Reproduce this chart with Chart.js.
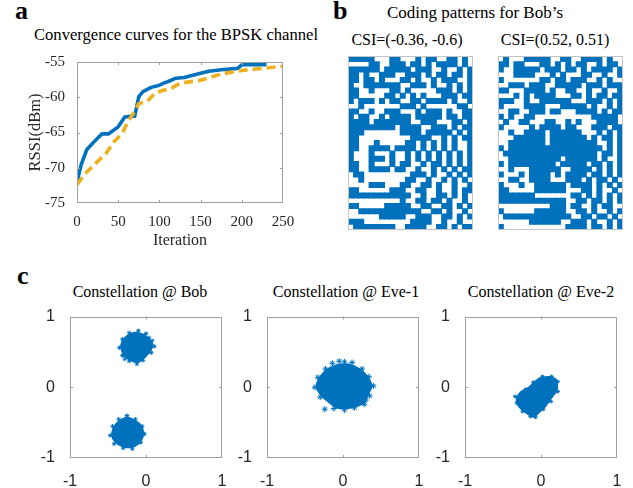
<!DOCTYPE html>
<html><head><meta charset="utf-8">
<script src="https://cdn.jsdelivr.net/npm/chart.js@4"></script>
<style>
html,body{margin:0;padding:0;background:#fff;}
#wrap{position:relative;width:633px;height:488px;overflow:hidden;background:#fff;}
canvas{position:absolute;}
.t{position:absolute;font-family:'Liberation Serif','Times New Roman',serif;color:#000;line-height:1;white-space:nowrap;}
.c{text-align:center;width:300px;}
.lbl{font-weight:bold;font-size:26px;}
</style></head><body>
<div id="wrap">
  <div class="t lbl" style="left:15px;top:-2px">a</div>
  <div class="t lbl" style="left:333px;top:-2px">b</div>
  <div class="t lbl" style="left:17px;top:263px">c</div>
  <div class="t c" style="left:26px;top:27px;font-size:16.6px">Convergence curves for the BPSK channel</div>
  <div class="t c" style="left:325px;top:4px;font-size:17px">Coding patterns for Bob’s</div>
  <div class="t c" style="left:257px;top:32px;font-size:16px">CSI=(-0.36, -0.6)</div>
  <div class="t c" style="left:405px;top:32px;font-size:16px">CSI=(0.52, 0.51)</div>
  <div class="t c" style="left:-10px;top:284px;font-size:16px">Constellation @ Bob</div>
  <div class="t c" style="left:196px;top:284px;font-size:16px">Constellation @ Eve-1</div>
  <div class="t c" style="left:391px;top:284px;font-size:16px">Constellation @ Eve-2</div>
  <canvas id="cA" width="330" height="250" style="left:0;top:0"></canvas>
  <canvas id="cB1" width="133" height="182" style="left:344px;top:52px"></canvas>
  <canvas id="cB2" width="133" height="182" style="left:494px;top:52px"></canvas>
  <canvas id="cC1" width="205" height="188" style="left:30px;top:300px"></canvas>
  <canvas id="cC2" width="205" height="188" style="left:227px;top:300px"></canvas>
  <canvas id="cC3" width="205" height="188" style="left:425px;top:300px"></canvas>
</div>
<script>
// ---------- Panel a data ----------
const blueIter = [0, 5, 12, 20, 30, 38, 50, 58, 65, 70, 75, 80, 90, 100, 105, 110, 120, 130, 150, 160, 175, 195, 200, 230];
const blueRSSI = [-72, -69.6, -67.4, -66.4, -65.2, -65.2, -64.2, -62.8, -62.7, -62.7, -59.9, -59.2, -58.6, -58.3, -58.0, -57.8, -57.3, -57.2, -56.6, -56.3, -56.1, -55.9, -55.4, -55.4];
const yellowIter = [0, 5, 12, 25, 35, 45, 55, 62, 70, 75, 85, 95, 105, 115, 125, 150, 175, 200, 225, 250];
const yellowRSSI = [-72.4, -71.6, -70.6, -69.1, -68.0, -66.3, -65.1, -63.4, -62.0, -60.9, -60.6, -59.4, -59.0, -58.7, -58.0, -57.6, -56.7, -56.2, -55.9, -55.6];
const xTicksA = [0, 50, 100, 150, 200, 250];
const yTicksA = [-75, -70, -65, -60, -55];

// ---------- Panel b data (1 = blue cell) ----------
const patternBob1 = [
"#####...##...#.##..##.#.",
"....##..###.##.#.####.#.",
"######.#####.###..#..#.#",
"##.#..###..###.#.##.##.#",
"##.##.#...##.#..#.###..#",
"#..#######..###.#..#.#.#",
"##..#...##.#.....###.#.#",
"##.....##.#.#.#...###.##",
"#.###.#.##..##.####.#..#",
"..#.......###.#......##.",
"##..#..###...#.###.#..##",
"#.##..#.####.#####.##.##",
"####.#######..###...##.#",
"#########.####..###.#.##",
"###.......####.#####.#.#",
"##..........####..#.#.##",
"##...#.....##.#.#.#.#..#",
"##..####.####.#.#.#.#..#",
"#...#...#..#.#.#.#.#.#.#",
"#...###.#..#.#.#.#.#.#.#",
"##..#...#.##..#.##.#.#.#",
"##..####.##..#..#.#.#.##",
".##.........###.#..#.#.#",
"..#........##..#..#.#.#.",
"....###...##..##.#..#..#",
"##......###..##..#..#.##",
"############..#..##.#.#.",
"..........#..##.##.#..#.",
"##.....#####..##..##.#.#",
"..############..##.#..#.",
"......#####..###..##.#.#",
"###.........####..#..#..",
".########..####..##.#.##"];
const patternBob2 = [
".#...#####..##..####.#..",
"##.##...##.#.#.##..#.##.",
"#..#####.###.##.#.####.#",
"...####...#.#...##..#..#",
"#.......##.##.###..#.#..",
"..###.###..#####.###.###",
"##...####.#..##..#..#..#",
"...#.#.####...##.#.##.##",
"###..#..######...###.#.#",
"#....####...#####.#..#.#",
"..##..###.##...####.#.##",
"#.#..##...........#####.",
".#..##...##..#.#...####.",
"#.....#.####.##...###.##",
"..#..####.######...#.#.#",
"...######.#######.#.##.#",
"..#######.#########..#.#",
"#.##################.#.#",
".##################.##.#",
"..##########.######.#..#",
"#.#########.#####.##.#.#",
"..#...######..####.#.#.#",
"#...#.####.#.####.##.#.#",
"..##..####...###.#.##.#.",
"#...#..######.####.#.#.#",
"##.....######...##.#..#.",
"#######.......##.#.#.#.#",
"#############..##.##.#.#",
"..........###.##..#.##..",
"#......######..##.#..#.#",
".#############..##.##.#.",
"......######..###.#..#.#",
"#............####.##.#.#"];

// ---------- Panel c data (cloud outlines + edge samples, I/Q) ----------
const bobTopI = [-0.12, -0.02, 0.06, 0.09, 0.06, 0.0, -0.06, -0.12, -0.2, -0.28, -0.32, -0.33, -0.28, -0.2];
const bobTopQ = [0.78, 0.74, 0.66, 0.6, 0.52, 0.44, 0.38, 0.35, 0.38, 0.44, 0.52, 0.6, 0.7, 0.76];
const bobBotI = [-0.25, -0.16, -0.08, -0.04, -0.04, -0.1, -0.2, -0.3, -0.4, -0.45, -0.42, -0.35];
const bobBotQ = [-0.42, -0.46, -0.52, -0.6, -0.7, -0.8, -0.85, -0.84, -0.78, -0.68, -0.56, -0.47];
const bobEdgeI = [-0.1, 0.0, 0.08, 0.11, 0.07, -0.04, -0.12, -0.22, -0.31, -0.35, -0.31, -0.22, 0.04, -0.28, -0.25, -0.14, -0.05, -0.02, -0.07, -0.18, -0.3, -0.42, -0.47, -0.44, -0.36];
const bobEdgeQ = [0.8, 0.76, 0.66, 0.58, 0.49, 0.38, 0.33, 0.37, 0.45, 0.56, 0.68, 0.77, 0.7, 0.4, -0.4, -0.45, -0.55, -0.66, -0.78, -0.87, -0.86, -0.8, -0.68, -0.55, -0.45];
const eve1I = [0.0, 0.1, 0.2, 0.3, 0.38, 0.33, 0.28, 0.18, 0.05, -0.08, -0.2, -0.3, -0.35, -0.3, -0.2, -0.1];
const eve1Q = [0.33, 0.32, 0.27, 0.18, 0.02, -0.1, -0.22, -0.27, -0.3, -0.29, -0.2, -0.1, 0.02, 0.15, 0.26, 0.31];
const eve1EdgeI = [0.02, 0.12, -0.14, 0.25, 0.34, 0.4, 0.35, 0.28, 0.15, 0.02, -0.12, -0.24, -0.3, -0.37, -0.33, -0.23, 0.3, -0.05];
const eve1EdgeQ = [0.36, 0.35, 0.34, 0.26, 0.15, 0.02, -0.12, -0.24, -0.29, -0.32, -0.3, -0.31, -0.14, 0.0, 0.14, 0.26, -0.18, 0.37];
const eve2I = [-0.02, 0.1, 0.2, 0.21, 0.13, 0.05, -0.05, -0.1, -0.2, -0.3, -0.32, -0.26, -0.16, -0.08];
const eve2Q = [0.13, 0.15, 0.11, -0.04, -0.16, -0.28, -0.38, -0.42, -0.36, -0.26, -0.15, -0.06, 0.0, 0.08];
const eve2EdgeI = [0.02, 0.14, 0.22, 0.22, 0.13, 0.03, -0.07, -0.14, -0.24, -0.32, -0.34, -0.2, -0.1];
const eve2EdgeQ = [0.15, 0.15, 0.08, -0.06, -0.2, -0.31, -0.42, -0.41, -0.34, -0.22, -0.13, -0.03, 0.07];
const iqTicks = [-1, 0, 1];

// ---------- styles ----------
const BLUE = '#0072BD', YELLOW = '#EDB120';
const SERIF = "'Liberation Serif','Times New Roman',serif";
const SANS = "'Liberation Sans',Arial,sans-serif";
Chart.defaults.animation = false;
Chart.defaults.events = [];
Chart.defaults.plugins.legend.display = false;
Chart.defaults.plugins.tooltip.enabled = false;

const boxTicks = {
  id: 'boxTicks',
  afterDatasetsDraw(chart, args, o) {
    const {ctx, chartArea: a} = chart;
    ctx.save();
    ctx.strokeStyle = o.color || '#a0a0a0';
    ctx.lineWidth = 1;
    ctx.strokeRect(Math.round(a.left) + 0.5, Math.round(a.top) + 0.5, Math.round(a.right - a.left) - 1, Math.round(a.bottom - a.top) - 1);
    const L = o.len || 0;
    if (L > 0) {
      ctx.beginPath();
      (o.xTicks || []).forEach(v => {
        const p = Math.round(chart.scales.x.getPixelForValue(v)) + 0.5;
        ctx.moveTo(p, a.bottom); ctx.lineTo(p, a.bottom - L);
        ctx.moveTo(p, a.top); ctx.lineTo(p, a.top + L);
      });
      (o.yTicks || []).forEach(v => {
        const p = Math.round(chart.scales.y.getPixelForValue(v)) + 0.5;
        ctx.moveTo(a.left, p); ctx.lineTo(a.left + L, p);
        ctx.moveTo(a.right, p); ctx.lineTo(a.right - L, p);
      });
      ctx.stroke();
    }
    ctx.restore();
  }
};
Chart.register(boxTicks);

const pts = (xs, ys) => xs.map((x, i) => ({x: x, y: ys[i]}));
const closed = (xs, ys) => { const p = pts(xs, ys); p.push(p[0]); return p; };

// ---------- Panel a ----------
new Chart(document.getElementById('cA'), {
  type: 'line',
  data: { datasets: [
    { data: pts(blueIter, blueRSSI), borderColor: BLUE, borderWidth: 3.6, pointRadius: 0, order: 1, borderJoinStyle: 'round' },
    { data: pts(yellowIter, yellowRSSI), borderColor: YELLOW, borderWidth: 3.6, borderDash: [9, 5], pointRadius: 0, order: 0 }
  ]},
  options: {
    responsive: false,
    layout: { padding: { left: 22, top: 62, right: 47, bottom: 0 } },
    scales: {
      x: { type: 'linear', min: 0, max: 250,
        afterFit: s => { s.height = 47; },
        afterBuildTicks: s => { s.ticks = xTicksA.map(v => ({value: v})); },
        grid: { display: false }, border: { display: false },
        ticks: { padding: 2, color: '#262626', font: { family: SERIF, size: 15 }, maxRotation: 0, autoSkip: false },
        title: { display: true, text: 'Iteration', color: '#262626', font: { family: SERIF, size: 16 }, padding: { top: 0, bottom: 0 } } },
      y: { min: -75, max: -55,
        afterFit: s => { s.width = 55; },
        afterBuildTicks: s => { s.ticks = yTicksA.map(v => ({value: v})); },
        grid: { display: false }, border: { display: false },
        ticks: { padding: 4, color: '#262626', font: { family: SERIF, size: 15 } },
        title: { display: true, text: 'RSSI(dBm)', color: '#262626', font: { family: SERIF, size: 16.5 }, padding: { top: 4, bottom: 0 } } }
    },
    plugins: { boxTicks: { color: '#a0a0a0', len: 3, xTicks: xTicksA.slice(1, -1), yTicks: yTicksA.slice(1, -1) } }
  }
});

// ---------- Panel b ----------
function cells(pattern) {
  const out = [];
  pattern.forEach((row, r) => { for (let c = 0; c < row.length; c++) if (row[c] === '#') out.push({x: c, y: r}); });
  return out;
}
function gridChart(id, pattern) {
  const cols = pattern[0].length, rows = pattern.length;
  new Chart(document.getElementById(id), {
    type: 'scatter',
    data: { datasets: [{ data: cells(pattern), pointStyle: 'rect', pointRadius: 4.25, backgroundColor: BLUE, borderWidth: 0 }] },
    options: {
      responsive: false,
      layout: { padding: 1 },
      scales: {
        x: { display: false, min: -0.5, max: cols - 0.5 },
        y: { display: false, min: -0.5, max: rows - 0.5, reverse: true }
      },
      plugins: { boxTicks: { color: '#c4c4c4', len: 0 } }
    }
  });
}
gridChart('cB1', patternBob1);
gridChart('cB2', patternBob2);

// ---------- Panel c ----------
function iqChart(id, clouds, edgeI, edgeQ, starR) {
  const ds = clouds.map(c => ({ data: closed(c[0], c[1]), showLine: true, fill: 'shape', tension: 0.25,
    backgroundColor: BLUE, borderColor: BLUE, borderWidth: 1.5, pointRadius: 0 }));
  ds.push({ data: pts(edgeI, edgeQ), pointStyle: 'star', pointRadius: starR, borderColor: BLUE, borderWidth: 1, backgroundColor: BLUE });
  new Chart(document.getElementById(id), {
    type: 'scatter',
    data: { datasets: ds },
    options: {
      responsive: false,
      layout: { padding: { left: 0, top: 12, right: 13, bottom: 0 } },
      scales: {
        x: { min: -1, max: 1, afterFit: s => { s.height = 30; },
          afterBuildTicks: s => { s.ticks = iqTicks.map(v => ({value: v})); },
          grid: { display: false }, border: { display: false },
          ticks: { padding: 6, color: '#262626', font: { family: SANS, size: 16 }, maxRotation: 0 } },
        y: { min: -1, max: 1, afterFit: s => { s.width = 40; },
          afterBuildTicks: s => { s.ticks = iqTicks.map(v => ({value: v})); },
          grid: { display: false }, border: { display: false },
          ticks: { padding: 7, color: '#262626', font: { family: SANS, size: 16 } } }
      },
      plugins: { boxTicks: { color: '#a0a0a0', len: 3, xTicks: [0], yTicks: [0] } }
    }
  });
}
iqChart('cC1', [[bobTopI, bobTopQ], [bobBotI, bobBotQ]], bobEdgeI, bobEdgeQ, 2.2);
iqChart('cC2', [[eve1I, eve1Q]], eve1EdgeI, eve1EdgeQ, 3);
iqChart('cC3', [[eve2I, eve2Q]], eve2EdgeI, eve2EdgeQ, 2.2);
</script>
</body></html>
